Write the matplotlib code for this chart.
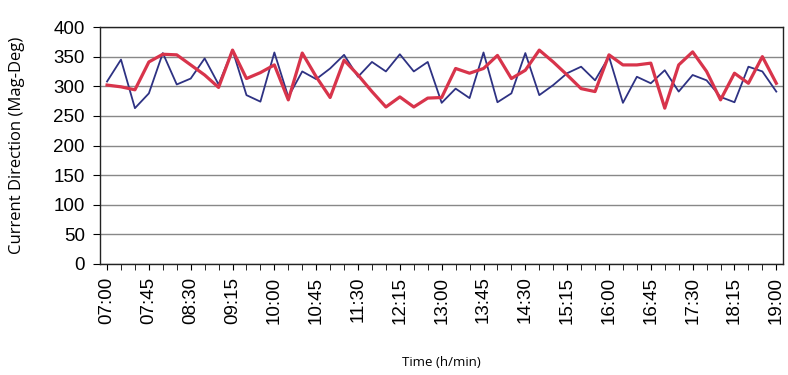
import matplotlib
matplotlib.use("Agg")
import matplotlib.pyplot as plt

# times every 15 minutes from 07:00 to 19:00
times = ["%02d:%02d" % (7 + m // 60, m % 60) for m in range(0, 12 * 60 + 1, 15)]

blue = [308, 345, 263, 288, 356, 303, 313, 347, 303, 361,
        285, 274, 357, 282, 325, 312, 330, 353, 316, 341,
        325, 354, 325, 341, 272, 296, 280, 357, 273, 288,
        356, 285, 302, 322, 333, 310, 350, 272, 316, 305,
        327, 291, 319, 310, 282, 273, 333, 325, 291]
red = [302, 299, 294, 341, 354, 353, 336, 319, 298, 361,
       313, 323, 336, 277, 356, 316, 281, 344, 319, 291,
       265, 282, 265, 280, 281, 330, 322, 330, 352, 313,
       327, 361, 341, 319, 296, 291, 353, 336, 336, 339,
       263, 336, 358, 325, 277, 322, 305, 350, 305]

x = list(range(len(times)))

fig = plt.figure(figsize=(7.88, 3.75), dpi=100)
ax = fig.add_axes([0.127, 0.296, 0.867, 0.632])

ax.plot(x, blue, color="#2E3283", lw=1.3, zorder=3)
ax.plot(x, red, color="#D8344B", lw=2.3, zorder=4)

ax.set_xlim(-0.5, len(times) - 0.5)
ax.set_ylim(0, 400)
ax.set_yticks(range(0, 401, 50))
ax.grid(axis="y", color="#888888", lw=1.0)
ax.set_axisbelow(True)

ax.set_xticks(x, minor=True)
ax.set_xticks(x[::3])
ax.set_xticklabels(times[::3], rotation=90, fontsize=13.5, family="Liberation Sans")
ax.tick_params(axis="x", which="both", direction="out", length=4, pad=5)
ax.tick_params(axis="y", direction="out", length=5, pad=6, labelsize=13.5)
for lbl in ax.get_yticklabels():
    lbl.set_family("Liberation Sans")

for s in ax.spines.values():
    s.set_color("#222222")
    s.set_linewidth(1.0)

ax.set_ylabel("Current Direction (Mag-Deg)", fontsize=12, family="Open Sans")
ax.yaxis.set_label_coords(-0.11, 0.5)
ax.set_xlabel("Time (h/min)", fontsize=9.5, family="Open Sans")
ax.xaxis.set_label_coords(0.5, -0.39)

fig.savefig("out.png", dpi=100)
